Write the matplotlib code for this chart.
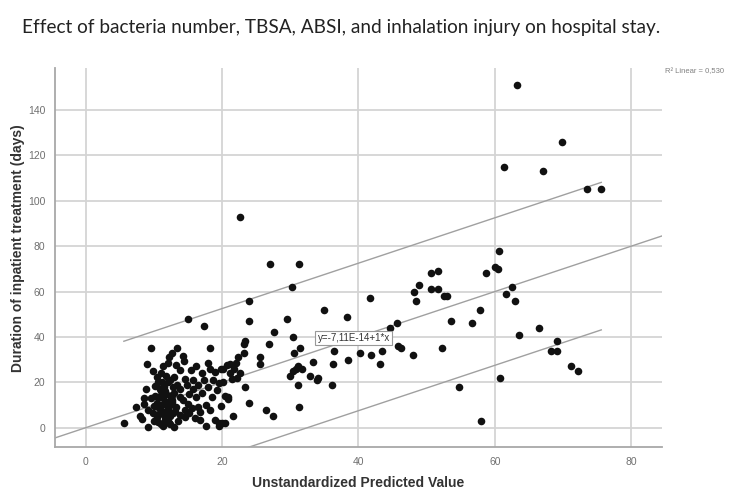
import numpy as np
import matplotlib
matplotlib.use("Agg")
import matplotlib.pyplot as plt

# unstandardized predicted value (x) and duration of inpatient treatment in days (y)
pred = [63.2, 61.4, 69.8, 67.0, 73.5, 75.6, 22.7,
        27.0, 31.3, 30.3, 23.9, 35.0, 38.3, 23.9, 29.5, 27.6, 30.4, 23.4, 23.2, 26.9,
        23.2, 25.5, 25.5, 31.4, 30.6, 36.4, 33.3, 38.5, 36.2, 31.2, 31.7, 30.9, 30.4,
        29.9, 32.9, 34.1, 33.9, 31.1, 36.1, 23.4, 20.4, 20.9, 24.0, 26.4, 31.3, 27.5,
        20.0, 20.5, 20.1, 21.1, 22.0, 22.4, 21.8, 22.6, 21.2, 20.1, 40.2,
        50.7, 51.7, 58.7, 48.9, 48.1, 50.7, 51.7, 52.6, 53.0, 48.4, 41.7, 57.8, 45.6,
        53.6, 56.6, 45.8, 46.3, 52.3, 41.9, 43.4, 48.0, 43.1, 54.8, 57.9, 44.6,
        60.6, 60.0, 60.4, 62.5, 61.7, 63.0, 66.5, 63.5, 69.1, 68.2, 69.1, 71.1, 72.2, 60.8,
        15.0, 17.3, 9.6, 18.2, 12.6, 13.4, 12.2, 14.2, 14.4, 11.4, 13.8, 9.9, 11.1, 17.9,
        18.2, 17.0, 18.9, 19.9, 20.7, 14.5, 15.7, 17.4, 18.7, 19.6, 10.6, 12.3, 10.1, 12.8,
        8.8, 13.8, 15.2, 16.2, 17.0, 13.8, 11.3, 11.8, 13.3, 15.0, 17.7, 18.2, 7.4, 8.6,
        7.9, 8.3, 9.9, 10.4, 11.6, 12.1, 13.8, 14.5, 15.2, 16.0, 12.4, 11.3, 9.1, 5.6,
        17.7, 18.9, 19.6, 16.7, 20.8,
        10.2, 11.0, 11.8, 12.5, 10.5, 12.0, 10.8, 11.5, 12.8, 10.0, 11.2, 12.6, 13.0, 10.8,
        11.5, 12.0, 10.4, 11.8, 13.0, 9.6, 12.2, 10.6, 13.5, 11.0, 12.9, 10.0, 14.6, 14.2,
        15.6, 16.4, 16.8, 15.8, 16.5, 14.8, 9.2, 8.5, 13.2, 12.0, 16.2, 15.5, 9.0, 18.5,
        19.2, 18.0, 19.8, 21.5, 22.2, 21.6, 19.5,
        11.3, 12.1, 12.7, 11.6, 10.9, 12.3, 13.1, 11.9, 11.2, 12.6, 10.7, 13.4, 11.7, 12.4]
days = [151, 115, 126, 113, 105, 105, 93,
        72, 72, 62, 56, 52, 49, 47, 48, 42, 40, 38, 37, 37,
        33, 31, 28, 35, 33, 34, 29, 30, 28, 27, 26, 26, 25,
        23, 23, 22, 21, 19, 19, 18, 14, 12.5, 11, 8, 9, 5,
        2, 2, 26, 28, 28.5, 31, 26, 24, 24, 20, 33,
        68, 69, 68, 63, 60, 61, 61, 58, 58, 56, 57, 52, 46,
        47, 46, 36, 35, 35, 32, 34, 32, 28, 18, 3, 44,
        78, 71, 70, 62, 59, 56, 44, 41, 38, 34, 34, 27, 25, 22,
        48, 45, 35, 35, 33, 35, 31, 31.6, 29.5, 27, 25.4, 25, 24, 28.6,
        26, 24, 24.7, 26, 27.6, 21.3, 21, 21, 21, 19.8, 20.3, 21, 18.4, 18,
        17, 17, 14.8, 13.7, 15.2, 13.7, 13, 10.7, 9.3, 10.4, 10, 7.8, 9, 10.4,
        5.2, 3.7, 6.3, 4.8, 4.8, 3.1, 5.6, 4.6, 6.3, 4.1, 1.6, 0.7, 0.2, 1.9,
        0.7, 3.4, 2.2, 3.4, 13.7,
        14, 16, 15, 13, 11, 8, 8.5, 6, 6.5, 9.5, 10, 11.5, 15.5, 13.5,
        18, 20, 22.5, 23, 22.5, 13, 2, 2.5, 2.8, 1.5, 0.5, 3, 8, 12,
        8.5, 9.2, 6.8, 17, 19, 19, 8, 13, 27.5, 28.5, 27, 25.5, 28, 13.5,
        16.5, 18, 9.5, 21.5, 22, 5, 0.8,
        7, 9, 12, 16, 17, 5, 7.5, 11.5, 20, 14.5, 6, 19, 3.5, 10]

intercept = -7.11e-14
slope = 1.0
pi_half = 32.5
r2_text = "R² Linear = 0,530"
eq_text = "y=-7,11E-14+1*x"

fig = plt.figure(figsize=(7.48, 5.0), dpi=100)
ax = fig.add_axes([0.0735, 0.106, 0.8115, 0.758])

ax.scatter(pred, days, s=30, c="#111111", linewidths=0, zorder=3)

xlim = (-4.5, 84.5)
xs = np.array(xlim)
ax.plot(xs, intercept + slope * xs, color="#a0a0a0", lw=1, zorder=2)
xb = np.array([min(pred), max(pred)])
ax.plot(xb, intercept + slope * xb + pi_half, color="#a0a0a0", lw=1, zorder=2)
ax.plot(xb, intercept + slope * xb - pi_half, color="#a0a0a0", lw=1, zorder=2)

ax.set_xlim(*xlim)
ax.set_ylim(-8.5, 158.5)
ax.set_xticks([0, 20, 40, 60, 80])
ax.set_yticks(range(0, 141, 20))
ax.grid(color="#d4d4d4", lw=1.3)
ax.set_axisbelow(True)
for s in ["top", "right"]:
    ax.spines[s].set_visible(False)
for s in ["left", "bottom"]:
    ax.spines[s].set_color("#a8a8a8")
    ax.spines[s].set_linewidth(1.3)
ax.tick_params(length=0, labelsize=7.5, labelcolor="#707070", pad=7)
for lab in ax.get_xticklabels() + ax.get_yticklabels():
    lab.set_family("Liberation Sans")

ax.text(34, 39.5, eq_text, fontsize=7, va="center", family="Liberation Sans", color="#333333",
        bbox=dict(boxstyle="square,pad=0.25", fc="white", ec="#999999", lw=0.8), zorder=4)

fig.text(0.889, 0.853, r2_text, fontsize=5.5, color="#808080", family="Liberation Sans")
fig.text(0.03, 0.946, "Effect of bacteria number, TBSA, ABSI, and inhalation injury on hospital stay.",
         fontsize=13.7, va="center", family="Lato", color="#222222")
fig.text(0.024, 0.504, "Duration of inpatient treatment (days)", rotation=90, va="center", ha="center",
         fontsize=10, weight="bold", family="Liberation Sans", color="#333333")
fig.text(0.479, 0.034, "Unstandardized Predicted Value", va="center", ha="center",
         fontsize=10, weight="bold", family="Liberation Sans", color="#333333")

fig.savefig("out.png", dpi=100)
